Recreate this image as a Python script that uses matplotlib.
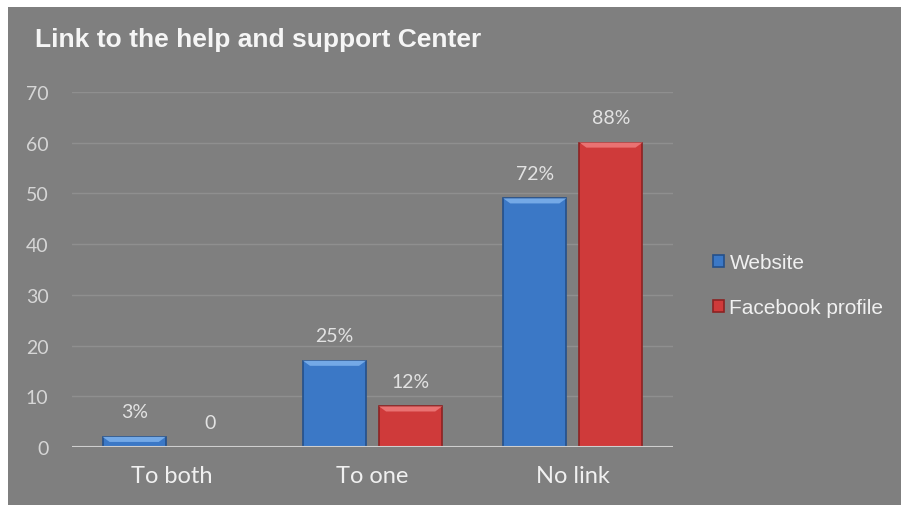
import matplotlib.pyplot as plt
from matplotlib.patches import Polygon, Rectangle
import numpy as np

categories = ["To both", "To one", "No link"]
series_names = ["Website", "Facebook profile"]
website = [2, 17, 49]
facebook = [0, 8, 60]
total = 68  # number of answers per series

bg = "#7f7f7f"
colors = ["#3b78c6", "#cf3a3a"]
edges = ["#24508a", "#8c2222"]
tops = ["#74a9e6", "#e97272"]


def pct_label(v):
    if v == 0:
        return "0"
    return "%d%%" % round(v / total * 100)


fig = plt.figure(figsize=(9.01, 5.06), dpi=100)
fig.patch.set_facecolor(bg)
# thin white margin along the top and left edges
fig.patches.append(Rectangle((0, 1 - 8 / 506), 1, 8 / 506, transform=fig.transFigure,
                             facecolor="white", edgecolor="none", zorder=-5))
fig.patches.append(Rectangle((0, 0), 8 / 901, 1, transform=fig.transFigure,
                             facecolor="white", edgecolor="none", zorder=-5))

ax = fig.add_axes([0.08, 0.1146, 0.667, 0.702])
ax.set_facecolor(bg)
for s in ax.spines.values():
    s.set_visible(False)

x = np.arange(len(categories))
w = 0.315
gap = 0.065
offsets = [-(w + gap) / 2, (w + gap) / 2]

for i, vals in enumerate([website, facebook]):
    bars = ax.bar(x + offsets[i], vals, w, color=colors[i], edgecolor=edges[i],
                  linewidth=1.2, label=series_names[i], zorder=3)
    for b, v in zip(bars, vals):
        if v > 0:
            # light bevel on the top face of the bar
            bx, bw, bh = b.get_x(), b.get_width(), b.get_height()
            d = min(1.0, bh * 0.5)
            ins = 0.035
            ax.add_patch(Polygon([(bx, bh), (bx + bw, bh), (bx + bw - ins, bh - d), (bx + ins, bh - d)],
                                 closed=True, facecolor=tops[i], edgecolor="none", zorder=4))
        ax.annotate(pct_label(v), (b.get_x() + b.get_width() / 2, v), xytext=(0, 18),
                    textcoords="offset points", ha="center", va="center",
                    color="#e2e2e2", fontsize=14, family="Lato")

ax.set_ylim(0, 70)
ax.set_xlim(-0.5, 2.5)
ax.set_yticks(range(0, 71, 10))
ax.yaxis.grid(True, color="#8f8f8f", linewidth=1, zorder=0)
ax.set_axisbelow(True)
ax.axhline(0, color="#cfcfcf", linewidth=1.5, zorder=5)
ax.tick_params(axis="y", length=0, pad=17, labelsize=14, labelcolor="#d6d6d6")
ax.tick_params(axis="x", length=0, pad=13, labelsize=17, labelcolor="#f0f0f0")
ax.set_xticks(x)
ax.set_xticklabels(categories, family="Lato")
for lbl in ax.get_yticklabels():
    lbl.set_family("Lato")

fig.text(35 / 901, 1 - 40 / 506, "Link to the help and support Center", color="#f5f5f5",
         fontsize=19, fontweight="bold", family="Liberation Sans", va="center", ha="left")

leg = ax.legend(loc="center left", bbox_to_anchor=(1.035, 0.455), frameon=False,
                handlelength=0.55, handleheight=0.55, handletextpad=0.25, labelspacing=1.25,
                prop={"family": "Liberation Sans", "size": 15})
for t in leg.get_texts():
    t.set_color("#f0f0f0")

plt.savefig("out.png", dpi=100, facecolor=fig.get_facecolor())
